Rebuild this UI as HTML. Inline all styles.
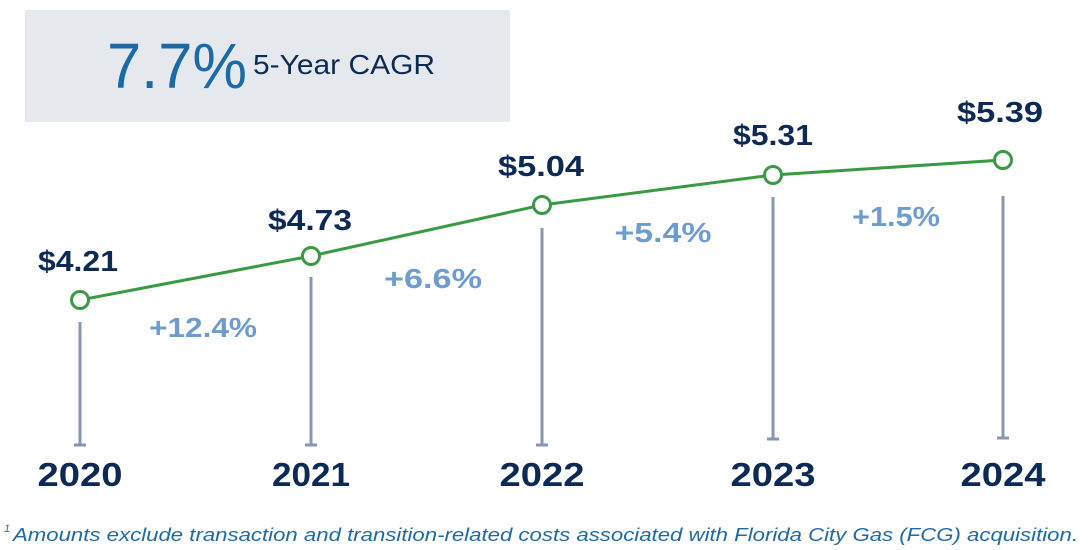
<!DOCTYPE html>
<html><head><meta charset="utf-8"><style>
html,body{margin:0;padding:0;background:#fff;}
svg{display:block;}
</style></head><body>
<svg width="1092" height="550" viewBox="0 0 1092 550" xmlns="http://www.w3.org/2000/svg" font-family="Liberation Sans, sans-serif">
<rect x="25" y="10" width="485" height="112" fill="#e5e9ee"/>
<text x="107" y="88" font-size="64" fill="#1a6aa8" textLength="140" lengthAdjust="spacingAndGlyphs" style="font-weight:300">7.7%</text>
<text x="253" y="74" font-size="28" fill="#0d2a55" textLength="182" lengthAdjust="spacingAndGlyphs">5-Year CAGR</text>
<g stroke="#8797b0" stroke-width="3">
<line x1="80" y1="322" x2="80" y2="445"/><line x1="74" y1="445" x2="86" y2="445"/>
<line x1="311" y1="277" x2="311" y2="445"/><line x1="305" y1="445" x2="317" y2="445"/>
<line x1="542" y1="228" x2="542" y2="445"/><line x1="536" y1="445" x2="548" y2="445"/>
<line x1="773" y1="197" x2="773" y2="439"/><line x1="767" y1="439" x2="779" y2="439"/>
<line x1="1003" y1="196" x2="1003" y2="438"/><line x1="997" y1="438" x2="1009" y2="438"/>
</g>
<polyline points="80,300 311,256 542,205 773,175 1003,160" fill="none" stroke="#3a9a44" stroke-width="3"/>
<g fill="#fff" stroke="#3a9a44" stroke-width="3">
<circle cx="80" cy="300" r="8.5"/><circle cx="311" cy="256" r="8.5"/><circle cx="542" cy="205" r="8.5"/><circle cx="773" cy="175" r="8.5"/><circle cx="1003" cy="160" r="8.5"/>
</g>
<g font-size="29" font-weight="bold" fill="#0d2a55" text-anchor="middle" lengthAdjust="spacingAndGlyphs">
<text x="78" y="271" textLength="80" lengthAdjust="spacingAndGlyphs">$4.21</text>
<text x="310" y="230" textLength="84" lengthAdjust="spacingAndGlyphs">$4.73</text>
<text x="541" y="176" textLength="86" lengthAdjust="spacingAndGlyphs">$5.04</text>
<text x="773" y="145" textLength="80" lengthAdjust="spacingAndGlyphs">$5.31</text>
<text x="1000" y="122" textLength="86" lengthAdjust="spacingAndGlyphs">$5.39</text>
</g>
<g font-size="28" font-weight="bold" fill="#6f9ccf" text-anchor="middle">
<text x="203" y="337" textLength="108" lengthAdjust="spacingAndGlyphs">+12.4%</text>
<text x="433" y="288" textLength="98" lengthAdjust="spacingAndGlyphs">+6.6%</text>
<text x="663" y="242" textLength="97" lengthAdjust="spacingAndGlyphs">+5.4%</text>
<text x="896" y="226" textLength="88" lengthAdjust="spacingAndGlyphs">+1.5%</text>
</g>
<g font-size="33" font-weight="bold" fill="#0d2a55" text-anchor="middle">
<text x="80" y="486" textLength="85" lengthAdjust="spacingAndGlyphs">2020</text>
<text x="311" y="486" textLength="78" lengthAdjust="spacingAndGlyphs">2021</text>
<text x="542" y="486" textLength="85" lengthAdjust="spacingAndGlyphs">2022</text>
<text x="773" y="486" textLength="85" lengthAdjust="spacingAndGlyphs">2023</text>
<text x="1003" y="486" textLength="85" lengthAdjust="spacingAndGlyphs">2024</text>
</g>
<text x="4" y="532" font-size="11" font-style="italic" fill="#1f6aa5">1</text>
<text x="13" y="541" font-size="18" font-style="italic" fill="#1f6aa5" textLength="1065" lengthAdjust="spacingAndGlyphs">Amounts exclude transaction and transition-related costs associated with Florida City Gas (FCG) acquisition.</text>
</svg>
</body></html>
